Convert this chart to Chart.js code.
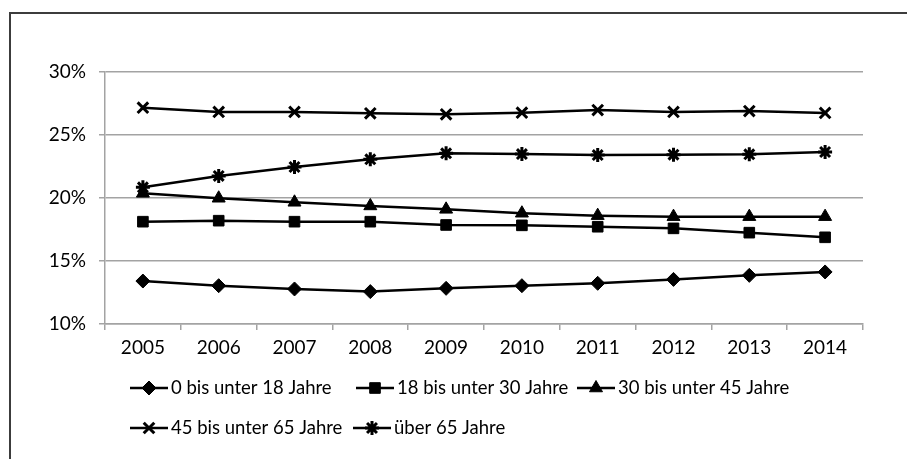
<!DOCTYPE html>
<html>
<head>
<meta charset="utf-8">
<script src="https://cdn.jsdelivr.net/npm/chart.js@4.4.1/dist/chart.umd.min.js"></script>
<style>
  html, body { margin: 0; padding: 0; background: #fff; }
  #wrap { position: relative; width: 907px; height: 459px; overflow: hidden; }
  #frame { position: absolute; left: 9px; top: 12px; width: 1000px; height: 1000px;
           border-left: 2px solid #3c3c3c; border-top: 2px solid #3c3c3c; }
  #chart { position: absolute; left: 0; top: 0; }
</style>
</head>
<body>
<div id="wrap">
  <div id="frame"></div>
  <canvas id="chart" width="907" height="459"></canvas>
</div>
<script>
// Anteil der Altersgruppen (in %)
const years = ['2005', '2006', '2007', '2008', '2009', '2010', '2011', '2012', '2013', '2014'];
const seriesLabels = ['0 bis unter 18 Jahre', '18 bis unter 30 Jahre', '30 bis unter 45 Jahre',
                      '45 bis unter 65 Jahre', 'über 65 Jahre'];
const age0to18  = [13.41, 13.04, 12.78, 12.57, 12.83, 13.04, 13.23, 13.54, 13.86, 14.13];
const age18to30 = [18.12, 18.20, 18.12, 18.12, 17.86, 17.83, 17.72, 17.59, 17.25, 16.88];
const age30to45 = [20.37, 19.98, 19.66, 19.37, 19.10, 18.79, 18.60, 18.52, 18.52, 18.52];
const age45to65 = [27.17, 26.83, 26.83, 26.72, 26.64, 26.77, 26.98, 26.83, 26.90, 26.75];
const age65plus = [20.85, 21.75, 22.46, 23.07, 23.55, 23.49, 23.41, 23.44, 23.47, 23.65];
const yTicks = [10, 15, 20, 25, 30];

const FONT = 'Lato, "Open Sans", sans-serif';
const GRID = '#a3a3a3';

const markers = [
    { style: 'rectRot', radius: 7, border: 1 },
    { style: 'rect', radius: 7.5, border: 1 },
    { style: 'triangle', radius: 7.5, border: 1 },
    { style: 'crossRot', radius: 7.5, border: 3 },
    { style: 'star', radius: 7, border: 3 }
];
const values = [age0to18, age18to30, age30to45, age45to65, age65plus];

const datasets = values.map((data, i) => ({
    label: seriesLabels[i],
    data: data,
    borderColor: '#000',
    backgroundColor: '#000',
    borderWidth: 2.5,
    tension: 0,
    pointStyle: markers[i].style,
    pointRadius: markers[i].radius,
    pointBorderWidth: markers[i].border,
    pointBackgroundColor: '#000',
    pointBorderColor: '#000'
}));

// Excel-style legend: line with marker, items laid out in two rows
const legendRows = [
    { y: 388, items: [0, 1, 2], x: [130, 356, 577] },
    { y: 428, items: [3, 4], x: [130, 353] }
];

const excelLegend = {
    id: 'excelLegend',
    afterDraw(chart) {
        const ctx = chart.ctx;
        ctx.save();
        ctx.font = '18.5px ' + FONT;
        ctx.textBaseline = 'middle';
        ctx.textAlign = 'left';
        legendRows.forEach(row => {
            row.items.forEach((idx, k) => {
                const x0 = row.x[k];
                const lineLen = 38;
                ctx.strokeStyle = '#000';
                ctx.lineWidth = 2.5;
                ctx.beginPath();
                ctx.moveTo(x0, row.y);
                ctx.lineTo(x0 + lineLen, row.y);
                ctx.stroke();
                ctx.fillStyle = '#000';
                ctx.lineWidth = markers[idx].border;
                Chart.helpers.drawPoint(ctx, {
                    pointStyle: markers[idx].style,
                    radius: markers[idx].radius,
                    rotation: 0,
                    borderWidth: markers[idx].border
                }, x0 + lineLen / 2, row.y);
                ctx.fillStyle = '#000';
                ctx.fillText(seriesLabels[idx], x0 + lineLen + 3, row.y);
            });
        });
        ctx.restore();
    }
};

new Chart(document.getElementById('chart'), {
    type: 'line',
    data: { labels: years, datasets: datasets },
    plugins: [excelLegend],
    options: {
        responsive: false,
        animation: false,
        layout: { padding: { left: 0, top: 72, right: 44, bottom: 95 } },
        plugins: {
            legend: { display: false },
            tooltip: { enabled: false }
        },
        scales: {
            x: {
                type: 'category',
                offset: true,
                grid: { display: true, offset: true, drawOnChartArea: false, drawTicks: true,
                        tickLength: 6, color: GRID, lineWidth: 1.5 },
                border: { display: true, color: GRID, width: 1.5 },
                ticks: { color: '#000', font: { family: FONT, size: 19 }, padding: 6, maxRotation: 0 },
                afterFit: s => { s.height = 40; }
            },
            y: {
                min: 10,
                max: 30,
                afterBuildTicks: s => { s.ticks = yTicks.map(v => ({ value: v })); },
                grid: { color: GRID, lineWidth: 1.5, drawTicks: true, tickLength: 6 },
                border: { display: true, color: GRID, width: 1.5 },
                ticks: { color: '#000', font: { family: FONT, size: 19 }, padding: 13,
                         callback: v => v + '%' },
                afterFit: s => { s.width = 105; }
            }
        }
    }
});
</script>
</body>
</html>
